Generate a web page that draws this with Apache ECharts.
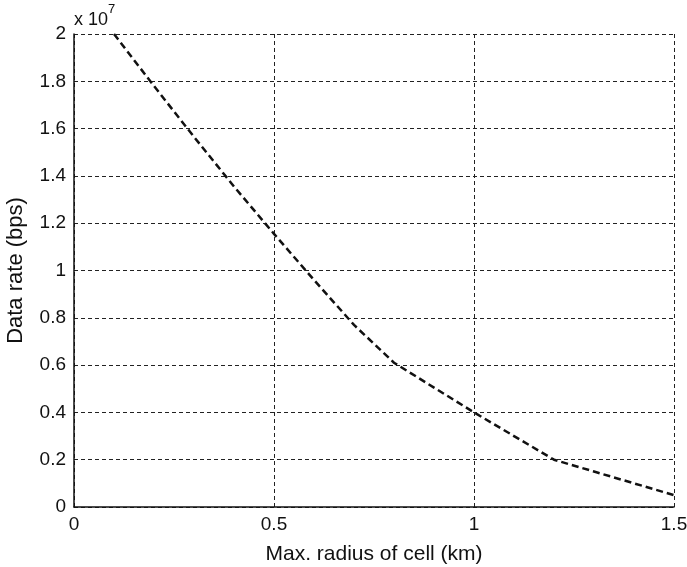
<!DOCTYPE html>
<html>
<head>
<meta charset="utf-8">
<script src="https://cdn.jsdelivr.net/npm/echarts@6/dist/echarts.min.js"></script>
<style>
  html, body { margin: 0; padding: 0; background: #fff; }
  #chart { width: 687px; height: 567px; }
</style>
</head>
<body>
<div id="chart"></div>
<script>
  // radius of cell (km)
  var radius = [0.1, 0.2, 0.3, 0.4, 0.5, 0.6, 0.7, 0.8, 0.9, 1.0, 1.1, 1.2, 1.3, 1.4, 1.5];
  // data rate, in units of 1e7 bps
  var rate = [2.0, 1.78, 1.565, 1.355, 1.155, 0.96, 0.77, 0.61, 0.505, 0.4, 0.3, 0.2, 0.15, 0.1, 0.05];
  var yTicks = [0, 0.2, 0.4, 0.6, 0.8, 1, 1.2, 1.4, 1.6, 1.8, 2];

  var chart = echarts.init(document.getElementById('chart'));
  var font = 'Liberation Sans, Arial, sans-serif';

  var pts = [];
  for (var i = 0; i < radius.length; i++) {
    pts.push([radius[i], rate[i]]);
  }

  var gridDash = { color: '#222', width: 1, type: [4, 3] };

  var option = {
    animation: false,
    backgroundColor: '#fff',
    grid: { left: 74, right: 13, top: 34, bottom: 60, containLabel: false, outerBoundsMode: 'none' },
    graphic: [
      { type: 'text', left: 74, top: 11, style: { text: 'x 10', font: '18px ' + font, fill: '#111' } },
      { type: 'text', left: 108, top: 3, style: { text: '7', font: '13px ' + font, fill: '#111' } }
    ],
    xAxis: {
      type: 'value',
      min: 0, max: 1.5, interval: 0.5,
      name: 'Max. radius of cell (km)',
      nameLocation: 'middle',
      nameGap: 37,
      nameTextStyle: { fontSize: 21, color: '#111', fontFamily: font },
      axisLine: { show: true, onZero: false, lineStyle: { color: '#111', width: 1.5 } },
      axisTick: { show: false },
      axisLabel: { fontSize: 19, color: '#111', fontFamily: font, margin: 8 },
      splitLine: { show: true, lineStyle: gridDash }
    },
    yAxis: {
      type: 'value',
      min: 0, max: 2, interval: 0.2,
      name: 'Data rate (bps)',
      nameLocation: 'middle',
      nameGap: 47,
      nameTextStyle: { fontSize: 22, color: '#111', fontFamily: font },
      axisLine: { show: true, onZero: false, lineStyle: { color: '#111', width: 1.5 } },
      axisTick: { show: false },
      axisLabel: {
        fontSize: 19, color: '#111', fontFamily: font, margin: 8,
        formatter: function (v) { return yTicks.indexOf(+v.toFixed(1)) >= 0 ? String(+v.toFixed(1)) : ''; }
      },
      splitLine: { show: true, lineStyle: gridDash }
    },
    series: [
      {
        type: 'line',
        data: pts,
        showSymbol: false,
        symbol: 'none',
        lineStyle: { color: '#111', width: 2.5, type: [7, 4] }
      }
    ]
  };

  chart.setOption(option);
</script>
</body>
</html>
